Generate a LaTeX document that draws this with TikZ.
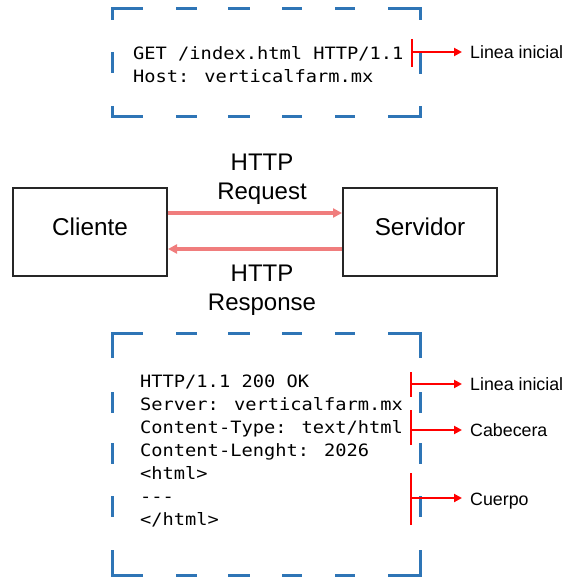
\documentclass[tikz,border=0pt]{standalone}
\usepackage{fontspec}
\setmainfont{Liberation Sans}
\newfontfamily\codefont[FakeStretch=1.1]{DejaVu Sans Mono}
\usetikzlibrary{arrows.meta}
\definecolor{dashblue}{RGB}{46,117,182}
\definecolor{pinkred}{RGB}{240,125,125}
\definecolor{annred}{RGB}{255,0,0}
\begin{document}
\begin{tikzpicture}[x=1pt,y=-1pt,
  bluedash/.style={draw=dashblue, line width=3pt},
  box/.style={draw=black!85, line width=2pt, minimum width=154pt, minimum height=88pt, inner sep=0pt, text height=18pt, text depth=12pt, font=\fontsize{24.3}{29}\selectfont},
  msg/.style={font=\fontsize{24}{29}\selectfont, inner sep=0pt, anchor=base},
  flow/.style={draw=pinkred, line width=3.2pt, -{Triangle[length=9pt,width=9pt]}},
  code/.style={font=\codefont\fontsize{17}{23}\selectfont, inner sep=0pt, anchor=base west},
  bar/.style={draw=annred, line width=2.4pt},
  note/.style={draw=annred, line width=2.4pt, -{Triangle[length=8pt,width=8pt]}},
  notelbl/.style={font=\fontsize{17.8}{21}\selectfont, anchor=west, inner xsep=8pt, inner ysep=0pt, text height=12.8pt, text depth=0pt}]
\useasboundingbox (0,0) rectangle (569,577);

% ---------- top dashed frame ----------
\draw[bluedash] (112,20) -- (112,9) -- (143,9);
\draw[bluedash] (388,9) -- (420,9) -- (420,20);
\draw[bluedash] (112,106) -- (112,117) -- (143,117);
\draw[bluedash] (388,117) -- (420,117) -- (420,106);
\foreach \a/\b in {176/197,228/250,282/302,335/355}{
  \draw[bluedash] (\a,9) -- (\b,9);
  \draw[bluedash] (\a,117) -- (\b,117);
}
\draw[bluedash] (112,52) -- (112,73);
\draw[bluedash] (420,53) -- (420,74);

\node[code] (get) at (133,60) {GET /index.html HTTP/1.1};
\node[code] (host) at (133,83) {Host: verticalfarm.mx};

% annotation top
\draw[bar] (412,39) -- (412,67);
\coordinate (t1) at (412,52);
\node[notelbl] (tl1) at (462,52) {Linea inicial};
\draw[note] (t1) -- (tl1.west);

% ---------- client / server ----------
\node[box] (cli) at (90,232) {Cliente};
\node[box] (srv) at (420,232) {Servidor};
\draw[flow] ([yshift=19pt]cli.east) -- ([yshift=19pt]srv.west);
\draw[flow] ([yshift=-17pt]srv.west) -- ([yshift=-17pt]cli.east);
\node[msg] (rq1) at (262,171) {HTTP};
\node[msg] (rq2) at (262,200) {Request};
\node[msg] (rs1) at (262,281) {HTTP};
\node[msg] (rs2) at (262,310) {Response};

% ---------- bottom dashed frame ----------
\draw[bluedash] (112,358) -- (112,333) -- (143,333);
\draw[bluedash] (388,333) -- (420,333) -- (420,358);
\draw[bluedash] (112,550) -- (112,575) -- (143,575);
\draw[bluedash] (388,575) -- (420,575) -- (420,550);
\foreach \a/\b in {176/197,228/250,282/302,335/355}{
  \draw[bluedash] (\a,333) -- (\b,333);
  \draw[bluedash] (\a,575) -- (\b,575);
}
\foreach \a/\b in {392/413,443/464,496/517}{
  \draw[bluedash] (112,\a) -- (112,\b);
  \draw[bluedash] (420,\a) -- (420,\b);
}

\node[code] (r1) at (140,387) {HTTP/1.1 200 OK};
\node[code] (r2) at (140,410) {Server: verticalfarm.mx};
\node[code] (r3) at (140,433) {Content-Type: text/html};
\node[code] (r4) at (140,456) {Content-Lenght: 2026};
\node[code] (r5) at (140,479) {<html>};
\node[code] (r6) at (140,502) {---};
\node[code] (r7) at (140,525) {</html>};

% annotations bottom
\draw[bar] (411,372) -- (411,397);
\coordinate (b1) at (411,384);
\node[notelbl] (bl1) at (462,384) {Linea inicial};
\draw[note] (b1) -- (bl1.west);

\draw[bar] (411,410) -- (411,445);
\coordinate (b2) at (411,430);
\node[notelbl] (bl2) at (462,430) {Cabecera};
\draw[note] (b2) -- (bl2.west);

\draw[bar] (411,473) -- (411,525);
\coordinate (b3) at (411,498);
\node[notelbl] (bl3) at (462,499) {Cuerpo};
\draw[note] (b3) -- (b3 -| bl3.west);
\end{tikzpicture}
\end{document}
